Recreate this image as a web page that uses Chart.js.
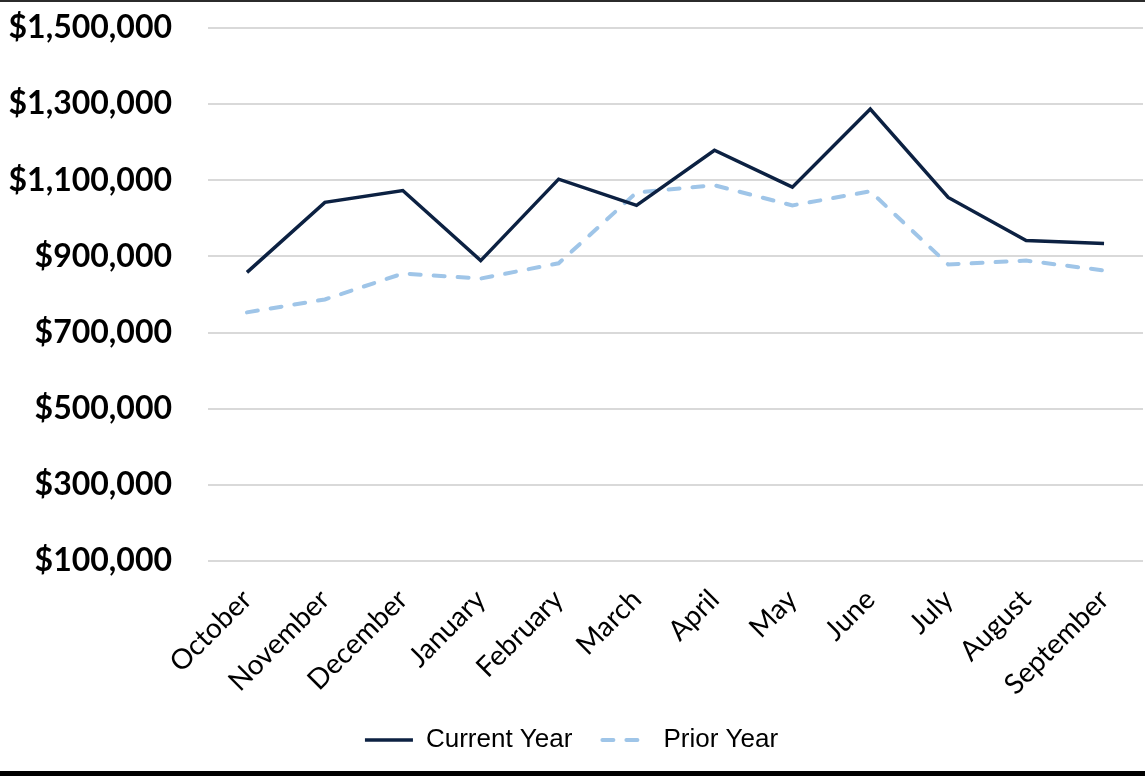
<!DOCTYPE html>
<html>
<head>
<meta charset="utf-8">
<script src="https://cdn.jsdelivr.net/npm/chart.js@4.4.1/dist/chart.umd.min.js"></script>
<style>
    html, body { margin: 0; padding: 0; background: #fff; }
    #wrap {
        width: 1145px; height: 776px; box-sizing: border-box;
        border-top: 2px solid #2b2b2b; border-bottom: 5px solid #000;
        position: relative;
    }
    #chart { display: block; }
</style>
</head>
<body>
<div id="wrap"><canvas id="chart" width="1145" height="769"></canvas></div>
<script>
// Datos
const meses = ['October', 'November', 'December', 'January', 'February', 'March',
               'April', 'May', 'June', 'July', 'August', 'September'];
const anioActual = [858000, 1042000, 1073000, 889000, 1103000, 1034000,
                    1179000, 1082000, 1287000, 1055000, 942000, 934000];
const anioAnterior = [753000, 787000, 855000, 842000, 882000, 1068000,
                      1087000, 1034000, 1071000, 879000, 889000, 863000];
const ejeY = { min: 100000, max: 1500000, paso: 200000 };

const fmt = v => '$' + v.toLocaleString('en-US');

const ctx = document.getElementById('chart').getContext('2d');
new Chart(ctx, {
    type: 'line',
    data: {
        labels: meses,
        datasets: [{
            label: 'Current Year',
            data: anioActual,
            borderColor: '#0c2142',
            backgroundColor: '#0c2142',
            borderWidth: 3.5,
            pointRadius: 0,
            pointStyle: 'line',
            tension: 0
        }, {
            label: 'Prior Year',
            data: anioAnterior,
            borderColor: '#9fc5e8',
            backgroundColor: '#9fc5e8',
            borderWidth: 4,
            borderDash: [11, 13],
            borderCapStyle: 'round',
            pointRadius: 0,
            pointStyle: 'line',
            tension: 0
        }]
    },
    options: {
        responsive: false,
        animation: false,
        layout: { padding: { top: 26, right: 2, bottom: 8, left: 0 } },
        scales: {
            x: {
                offset: true,
                grid: { display: false },
                border: { display: false },
                ticks: {
                    minRotation: 45, maxRotation: 45,
                    color: '#000',
                    padding: 14,
                    font: { family: 'Lato, sans-serif', size: 28 }
                },
                afterFit: s => { s.height = 136; }
            },
            y: {
                min: ejeY.min, max: ejeY.max,
                grid: { color: '#d9d9d9', lineWidth: 2, drawTicks: false },
                border: { display: false },
                ticks: {
                    stepSize: ejeY.paso,
                    color: '#000',
                    padding: 36,
                    callback: v => fmt(v),
                    font: { family: 'Lato, sans-serif', size: 32, weight: 'bold' }
                },
                // el padding de los ticks también se suma arriba; lo quitamos
                afterFit: s => { s.width = 208; s.paddingTop = 0; s.paddingBottom = 0; }
            }
        },
        plugins: {
            tooltip: { enabled: false },
            legend: {
                position: 'bottom',
                labels: {
                    usePointStyle: true,
                    pointStyleWidth: 48,
                    padding: 30,
                    color: '#000',
                    font: { family: "'Liberation Sans Narrow', 'Liberation Sans', sans-serif", size: 26 },
                    generateLabels: chart => {
                        const items = Chart.defaults.plugins.legend.labels.generateLabels(chart);
                        items.forEach(it => {
                            const ds = chart.data.datasets[it.datasetIndex];
                            it.lineDash = ds.borderDash || [];
                            it.lineWidth = ds.borderWidth;
                            it.lineCap = ds.borderCapStyle || 'butt';
                        });
                        return items;
                    }
                }
            }
        }
    }
});
</script>
</body>
</html>
